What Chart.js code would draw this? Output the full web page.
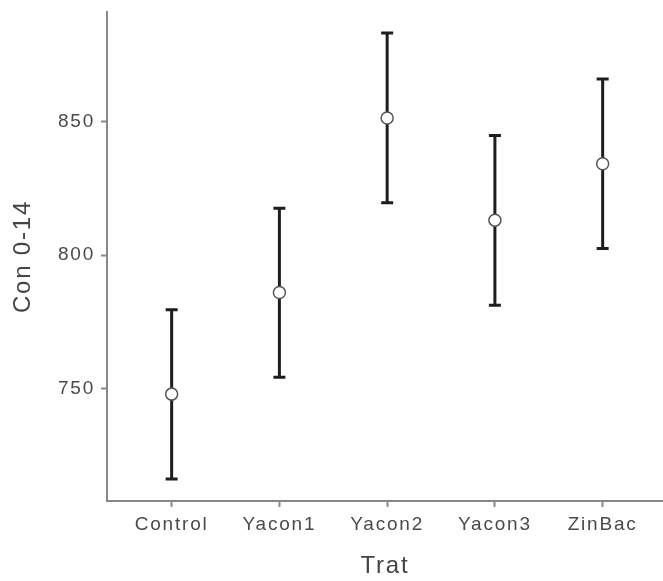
<!DOCTYPE html>
<html>
<head>
<meta charset="utf-8">
<script src="https://cdn.jsdelivr.net/npm/chart.js@4/dist/chart.umd.min.js"></script>
<style>
  html, body { margin: 0; padding: 0; background: #fff; }
  #wrap { width: 663px; height: 581px; }
</style>
</head>
<body>
<div id="wrap"><canvas id="c"></canvas></div>
<script>
// data
const categories = ['Control', 'Yacon1', 'Yacon2', 'Yacon3', 'ZinBac'];
const means = [748.0, 786.0, 851.3, 813.1, 834.2];
const lower = [716.2, 754.3, 819.6, 781.3, 802.5];
const upper = [779.6, 817.6, 883.1, 844.8, 865.9];
const yTicks = [750, 800, 850];

// the reference text is spaced out a bit, set it on the base ctx state
const spacing = {
  id: 'spacing',
  beforeInit(chart) { chart.ctx.letterSpacing = '1.8px'; },
  beforeLayout(chart) { chart.ctx.letterSpacing = '1.8px'; },
  beforeDraw(chart) { chart.ctx.letterSpacing = '1.8px'; }
};

// error bars drawn under the points
const errorBars = {
  id: 'errorBars',
  beforeDatasetsDraw(chart) {
    const ctx = chart.ctx;
    const xs = chart.scales.x, ys = chart.scales.y;
    ctx.save();
    ctx.strokeStyle = '#1e1e1e';
    ctx.lineWidth = 3;
    for (let i = 0; i < categories.length; i++) {
      const x = xs.getPixelForValue(i);
      const y1 = ys.getPixelForValue(lower[i]);
      const y2 = ys.getPixelForValue(upper[i]);
      ctx.beginPath();
      ctx.moveTo(x, y1); ctx.lineTo(x, y2);
      ctx.moveTo(x - 6, y1); ctx.lineTo(x + 6, y1);
      ctx.moveTo(x - 6, y2); ctx.lineTo(x + 6, y2);
      ctx.stroke();
    }
    ctx.restore();
  }
};

const font = "'Liberation Sans', Arial, sans-serif";

new Chart(document.getElementById('c'), {
  type: 'scatter',
  data: {
    datasets: [{
      data: means.map((v, i) => ({x: i, y: v})),
      pointRadius: 6,
      pointBackgroundColor: '#ffffff',
      pointBorderColor: '#555555',
      pointBorderWidth: 1.5
    }]
  },
  options: {
    responsive: true,
    maintainAspectRatio: false,
    animation: false,
    layout: { autoPadding: false, padding: { top: 12, right: 0, left: 0, bottom: 0 } },
    plugins: { legend: { display: false }, tooltip: { enabled: false } },
    scales: {
      x: {
        type: 'linear',
        min: -0.6,
        max: 4.56,
        afterBuildTicks(scale) { scale.ticks = categories.map((c, i) => ({value: i})); },
        afterFit(scale) { scale.height = 80; scale.paddingLeft = 0; scale.paddingRight = 0; },
        ticks: {
          callback: (v) => categories[v],
          color: '#4a4a4a',
          font: { family: font, size: 19 },
          padding: 6
        },
        grid: { drawOnChartArea: false, tickLength: 6, tickColor: '#888', tickWidth: 2 },
        border: { color: '#888', width: 2 },
        title: {
          display: true, text: 'Trat', color: '#444',
          font: { family: font, size: 24 },
          padding: { top: 0, bottom: 0 }
        }
      },
      y: {
        min: 708,
        max: 891,
        afterBuildTicks(scale) { scale.ticks = yTicks.map(v => ({value: v})); },
        afterFit(scale) { scale.width = 107; scale.paddingTop = 0; scale.paddingBottom = 0; },
        ticks: {
          color: '#4a4a4a',
          font: { family: font, size: 19 },
          padding: 6
        },
        grid: { drawOnChartArea: false, tickLength: 6, tickColor: '#888', tickWidth: 2 },
        border: { color: '#888', width: 2 },
        title: {
          display: true, text: 'Con 0-14', color: '#444',
          font: { family: font, size: 24 },
          padding: { top: 9, bottom: 0 }
        }
      }
    }
  },
  plugins: [spacing, errorBars]
});
</script>
</body>
</html>
